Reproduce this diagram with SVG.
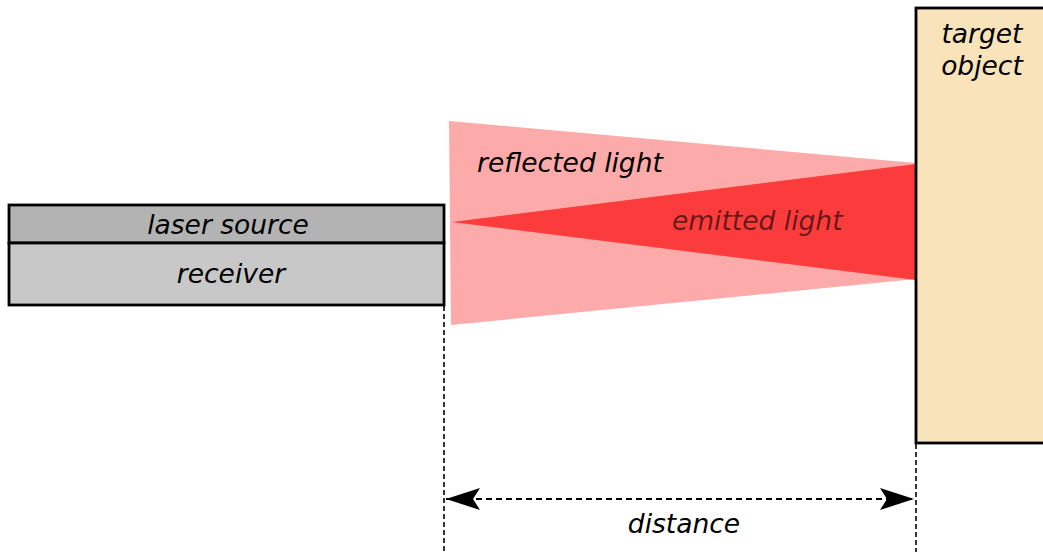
<svg xmlns="http://www.w3.org/2000/svg" width="1043" height="552" viewBox="0 0 1043 552">
  <style>
    text { font-family: "DejaVu Sans", "Liberation Sans", sans-serif; font-style: oblique; font-size: 26.5px; fill: #000; }
    .box { stroke: #000; stroke-width: 2.8; }
    .guide { stroke: #000; stroke-width: 1.6; stroke-dasharray: 5,3; fill: none; }
    .dim { stroke: #000; stroke-width: 2; stroke-dasharray: 6,4; fill: none; }
  </style>
  <defs>
    <marker id="arrow" viewBox="0 0 36 22" refX="36" refY="11" markerWidth="36" markerHeight="22" markerUnits="userSpaceOnUse" orient="auto-start-reverse">
      <path d="M36,11 L2,0 L9,11 L2,22 Z" fill="#000"/>
    </marker>
  </defs>
  <rect width="1043" height="552" fill="#fff"/>

  <!-- light beams -->
  <g id="reflected-light">
    <polygon points="449,121 916,163 916,279 451,325" fill="#fdaaaa"/>
    <text x="477" y="172">reflected light</text>
  </g>
  <g id="emitted-light">
    <polygon points="452,222 916,164 916,280" fill="#fc3c3c"/>
    <text x="672" y="230" style="fill:#000;fill-opacity:0.6">emitted light</text>
  </g>

  <!-- device -->
  <g id="laser-source">
    <rect class="box" x="9" y="205" width="435" height="38" fill="#b3b3b3"/>
    <text x="228" y="234" text-anchor="middle">laser source</text>
  </g>
  <g id="receiver">
    <rect class="box" x="9" y="243" width="435" height="62" fill="#c8c8c8"/>
    <text x="231" y="283" text-anchor="middle">receiver</text>
  </g>

  <!-- target -->
  <g id="target-object">
    <rect class="box" x="916" y="8" width="140" height="435" fill="#f8e3ba"/>
    <text x="982" y="43" text-anchor="middle">target</text>
    <text x="982" y="75" text-anchor="middle">object</text>
  </g>

  <!-- distance measurement -->
  <g id="connectors">
    <line class="guide" x1="444" y1="306" x2="444" y2="552"/>
    <line class="guide" x1="916" y1="444" x2="916" y2="552"/>
    <line class="dim" x1="446" y1="499" x2="914" y2="499" marker-start="url(#arrow)" marker-end="url(#arrow)"/>
  </g>
  <g id="distance-label">
    <text x="684" y="533" text-anchor="middle">distance</text>
  </g>
</svg>
